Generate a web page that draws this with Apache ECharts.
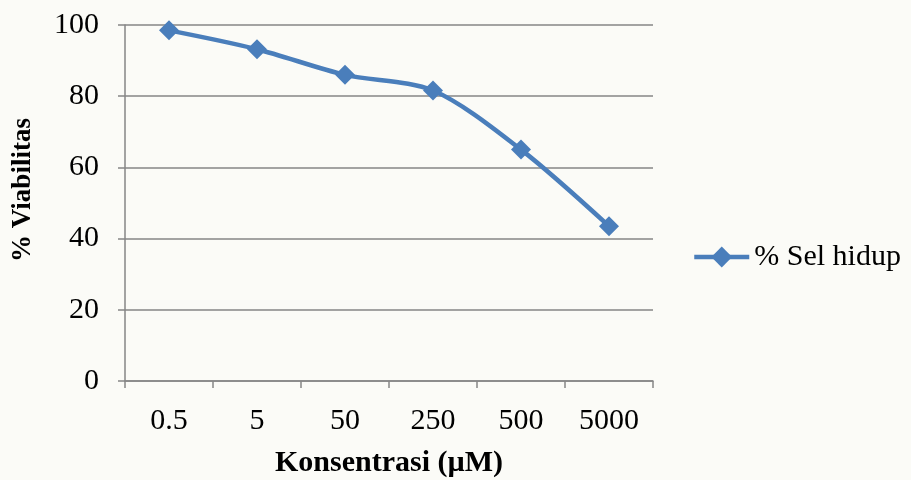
<!DOCTYPE html>
<html>
<head>
<meta charset="utf-8">
<script src="https://cdn.jsdelivr.net/npm/echarts@6/dist/echarts.min.js"></script>
<style>
html,body{margin:0;padding:0;background:#fbfbf7;}
#chart{width:911px;height:480px;}
</style>
</head>
<body>
<div id="chart"></div>
<script>
const categories = ['0.5', '5', '50', '250', '500', '5000'];
const viability = [98.5, 93.2, 86.0, 81.6, 65.0, 43.5];
const seriesName = '% Sel hidup';
const yTicks = { min: 0, max: 100, interval: 20 };

const font = '"Liberation Serif", "Times New Roman", serif';
const blue = '#4A7EBB';
const gray = '#868686';

const chart = echarts.init(document.getElementById('chart'));
chart.setOption({
  backgroundColor: '#fbfbf7',
  animation: false,
  grid: { left: 125, right: 258, top: 25, bottom: 99, containLabel: false, outerBoundsMode: 'none' },
  legend: {
    left: 687, top: 237,
    itemWidth: 55, itemHeight: 26, itemGap: 2,
    lineStyle: { width: 4.5 },
    textStyle: { fontFamily: font, fontSize: 30, color: '#000' },
    data: [seriesName]
  },
  xAxis: {
    type: 'category',
    data: categories,
    boundaryGap: true,
    name: 'Konsentrasi (µM)',
    nameLocation: 'middle',
    nameGap: 67,
    nameTextStyle: { fontFamily: font, fontSize: 30, fontWeight: 'bold', color: '#000' },
    axisLine: { lineStyle: { color: gray, width: 1.5 } },
    axisTick: { show: true, length: 7, inside: false, alignWithLabel: false, lineStyle: { color: gray, width: 1.5 } },
    axisLabel: { fontFamily: font, fontSize: 30, color: '#000', margin: 25 },
    splitLine: { show: false }
  },
  yAxis: {
    type: 'value',
    min: yTicks.min, max: yTicks.max, interval: yTicks.interval,
    name: '% Viabilitas',
    nameLocation: 'middle',
    nameGap: 88,
    nameRotate: 90,
    nameTextStyle: { fontFamily: font, fontSize: 27, fontWeight: 'bold', color: '#000', padding: [0, 0, 0, 26] },
    axisLine: { show: true, lineStyle: { color: gray, width: 1.5 } },
    axisTick: { show: true, length: 7, inside: false, lineStyle: { color: gray, width: 1.5 } },
    axisLabel: { fontFamily: font, fontSize: 30, color: '#000', margin: 26 },
    splitLine: { show: true, lineStyle: { color: gray, width: 1.5 } }
  },
  series: [{
    name: seriesName,
    type: 'line',
    data: viability,
    smooth: 0.3,
    symbol: 'diamond',
    symbolSize: 20,
    itemStyle: { color: blue },
    lineStyle: { color: blue, width: 4.5 }
  }]
});
</script>
</body>
</html>
